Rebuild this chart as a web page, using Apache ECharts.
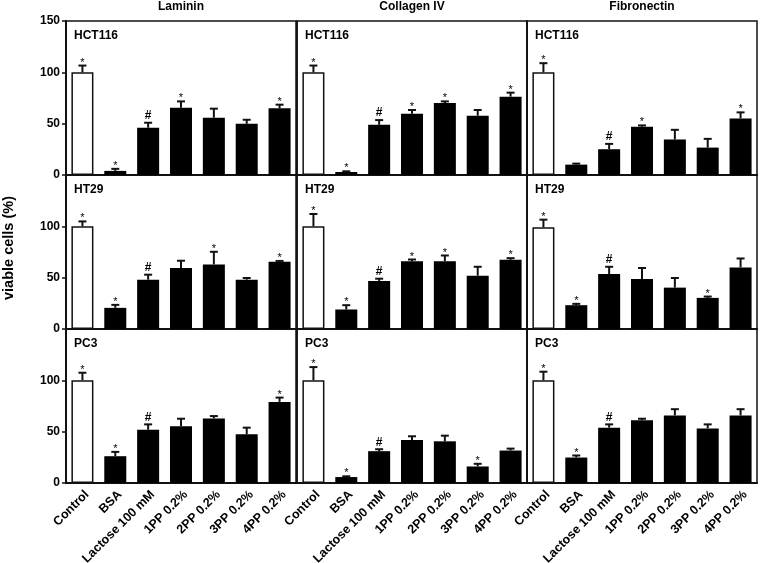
<!DOCTYPE html>
<html><head><meta charset="utf-8">
<script src="https://cdn.jsdelivr.net/npm/echarts@6/dist/echarts.min.js"></script>
<style>html,body{margin:0;padding:0;background:#fff}#c{width:760px;height:563px}</style>
</head><body><div id="c"></div>
<script>
const categories = ['Control','BSA','Lactose 100 mM','1PP 0.2%','2PP 0.2%','3PP 0.2%','4PP 0.2%'];
const substrates = ['Laminin','Collagen IV','Fibronectin'];
const cellLines = ['HCT116','HT29','PC3'];
const yTicks = [0, 50, 100, 150];

const hct116LamininMean = [100, 4, 46, 65.5, 55.8, 49.9, 64.9];
const hct116LamininErr  = [6.6, 2, 4.9, 6.2, 8.8, 3.9, 3.6];
const hct116LamininMark = ['*','*','#','*','','','*'];
const hct116CollagenMean = [100, 2.9, 48.9, 59.7, 70.1, 57.7, 76.3];
const hct116CollagenErr  = [6.6, 0.7, 4.6, 3.6, 1.6, 5.6, 3.9];
const hct116CollagenMark = ['*','*','#','*','*','','*'];
const hct116FibronectinMean = [100, 10.1, 25.1, 47, 34.6, 26.7, 55.1];
const hct116FibronectinErr  = [8.9, 1, 5.2, 1.3, 9.4, 8.5, 5.9];
const hct116FibronectinMark = ['*','','#','*','','','*'];

const ht29LamininMean = [100, 20.6, 48, 59.4, 62.9, 48, 65.5];
const ht29LamininErr  = [4.8, 2.9, 4.9, 7.1, 12.3, 1.7, 0.8];
const ht29LamininMark = ['*','*','#','','*','','*'];
const ht29CollagenMean = [100, 19, 46.8, 66.1, 66.1, 51.9, 67.4];
const ht29CollagenErr  = [12, 4.2, 2.2, 1.6, 5.5, 8.7, 1.6];
const ht29CollagenMark = ['*','*','#','*','*','','*'];
const ht29FibronectinMean = [99, 23.2, 53.5, 48.7, 40.3, 30.3, 60];
const ht29FibronectinErr  = [7.5, 1.3, 7.1, 10.7, 9.4, 1.3, 8.7];
const ht29FibronectinMark = ['*','*','#','','','*',''];

const pc3LamininMean = [100, 26.1, 51.9, 55.2, 62.9, 47.4, 79];
const pc3LamininErr  = [7.4, 4.2, 5.2, 7.4, 2.3, 6.5, 4.2];
const pc3LamininMark = ['*','*','#','','','','*'];
const pc3CollagenMean = [100, 5.8, 31, 41.9, 40.6, 16.1, 31.6];
const pc3CollagenErr  = [12.9, 0.7, 1.9, 3.6, 5.5, 2.6, 1.9];
const pc3CollagenMark = ['*','*','#','','','*',''];
const pc3FibronectinMean = [100, 24.8, 53.9, 61, 65.8, 53.2, 65.8];
const pc3FibronectinErr  = [8.4, 2, 3.2, 1.6, 6.1, 3.9, 6.1];
const pc3FibronectinMark = ['*','*','#','','','',''];

const panels = [
  [[hct116LamininMean, hct116LamininErr, hct116LamininMark],
   [hct116CollagenMean, hct116CollagenErr, hct116CollagenMark],
   [hct116FibronectinMean, hct116FibronectinErr, hct116FibronectinMark]],
  [[ht29LamininMean, ht29LamininErr, ht29LamininMark],
   [ht29CollagenMean, ht29CollagenErr, ht29CollagenMark],
   [ht29FibronectinMean, ht29FibronectinErr, ht29FibronectinMark]],
  [[pc3LamininMean, pc3LamininErr, pc3LamininMark],
   [pc3CollagenMean, pc3CollagenErr, pc3CollagenMark],
   [pc3FibronectinMean, pc3FibronectinErr, pc3FibronectinMark]]
];

const FONT = 'Liberation Sans, Arial, Helvetica, sans-serif';
const colLeft = [66, 297, 527];
const colWidth = 230;
const rowTop = [21, 175, 329];
const rowHeight = 154;
const LINE = '#111';

const grid = [], xAxis = [], yAxis = [], series = [], graphic = [];

function makeErrRenderer(marks) {
  return function (params, api) {
    const x = api.value(0), m = api.value(1), t = api.value(2);
    const p0 = api.coord([x, m]);
    const p1 = api.coord([x, t]);
    const children = [
      { type: 'line', shape: { x1: p0[0], y1: p0[1], x2: p1[0], y2: p1[1] }, style: { stroke: LINE, lineWidth: 2 } },
      { type: 'line', shape: { x1: p1[0] - 4, y1: p1[1], x2: p1[0] + 4, y2: p1[1] }, style: { stroke: LINE, lineWidth: 2 } }
    ];
    const mk = marks[params.dataIndex];
    if (mk === '*') {
      children.push({ type: 'text', style: { text: '*', x: p1[0], y: p1[1] - 3, align: 'center', verticalAlign: 'middle', font: '11px ' + FONT, fill: '#000' } });
    } else if (mk === '#') {
      children.push({ type: 'text', style: { text: '#', x: p1[0], y: p1[1] - 7, align: 'center', verticalAlign: 'middle', font: 'bold 12px ' + FONT, fill: '#000' } });
    }
    return { type: 'group', children: children };
  };
}

let idx = 0;
for (let r = 0; r < 3; r++) {
  for (let c = 0; c < 3; c++) {
    const [mean, err, marks] = panels[r][c];
    grid.push({ left: colLeft[c], top: rowTop[r], width: colWidth, height: rowHeight, show: true, borderColor: LINE, borderWidth: 1.5, backgroundColor: 'transparent', containLabel: false, outerBoundsMode: 'none' });
    xAxis.push({
      type: 'category', gridIndex: idx, data: categories,
      axisLine: { show: true, lineStyle: { color: LINE, width: 2 } },
      axisTick: { show: false },
      axisLabel: { show: r === 2, rotate: 45, interval: 0, margin: 5, verticalAlign: 'top', fontFamily: FONT, fontWeight: 'bold', fontSize: 12.5, color: '#000' }
    });
    yAxis.push({
      type: 'value', gridIndex: idx, min: yTicks[0], max: yTicks[yTicks.length - 1], interval: 50,
      axisLine: { show: true, lineStyle: { color: LINE, width: c === 0 ? 2 : 1.5 } },
      axisTick: { show: c === 0, length: 4, lineStyle: { color: LINE, width: 1.5 } },
      splitLine: { show: false },
      axisLabel: {
        show: c === 0, margin: 6, fontFamily: FONT, fontWeight: 'bold', fontSize: 12, color: '#000',
        formatter: (function (row) { return function (v) { return (row > 0 && v === 150) ? '' : String(v); }; })(r)
      }
    });
    series.push({
      type: 'bar', xAxisIndex: idx, yAxisIndex: idx, barCategoryGap: '33%',
      data: mean.map(function (v, i) {
        return { value: v, itemStyle: i === 0 ? { color: '#fff', borderColor: LINE, borderWidth: 1.5 } : { color: '#000', borderColor: '#000', borderWidth: 0 } };
      }),
      silent: true, animation: false
    });
    series.push({
      type: 'custom', xAxisIndex: idx, yAxisIndex: idx,
      data: mean.map(function (v, i) { return [i, v, v + err[i]]; }),
      renderItem: makeErrRenderer(marks), silent: true, animation: false, z: 5
    });
    graphic.push({ type: 'text', left: colLeft[c] + 8, top: rowTop[r] + 9, style: { text: cellLines[r], font: 'bold 12px ' + FONT, fill: '#000' } });
    idx++;
  }
}
for (let c = 0; c < 3; c++) {
  graphic.push({ type: 'text', x: colLeft[c] + colWidth / 2, y: 7, style: { text: substrates[c], font: 'bold 12px ' + FONT, fill: '#000', align: 'center', verticalAlign: 'middle' } });
}
graphic.push({ type: 'text', x: 9, y: 248, rotation: Math.PI / 2, style: { text: 'viable cells (%)', font: 'bold 14.5px ' + FONT, fill: '#000', align: 'center', verticalAlign: 'middle' } });

const chart = echarts.init(document.getElementById('c'), null, { renderer: 'canvas' });
chart.setOption({ animation: false, grid: grid, xAxis: xAxis, yAxis: yAxis, series: series, graphic: graphic });
</script>
</body></html>
